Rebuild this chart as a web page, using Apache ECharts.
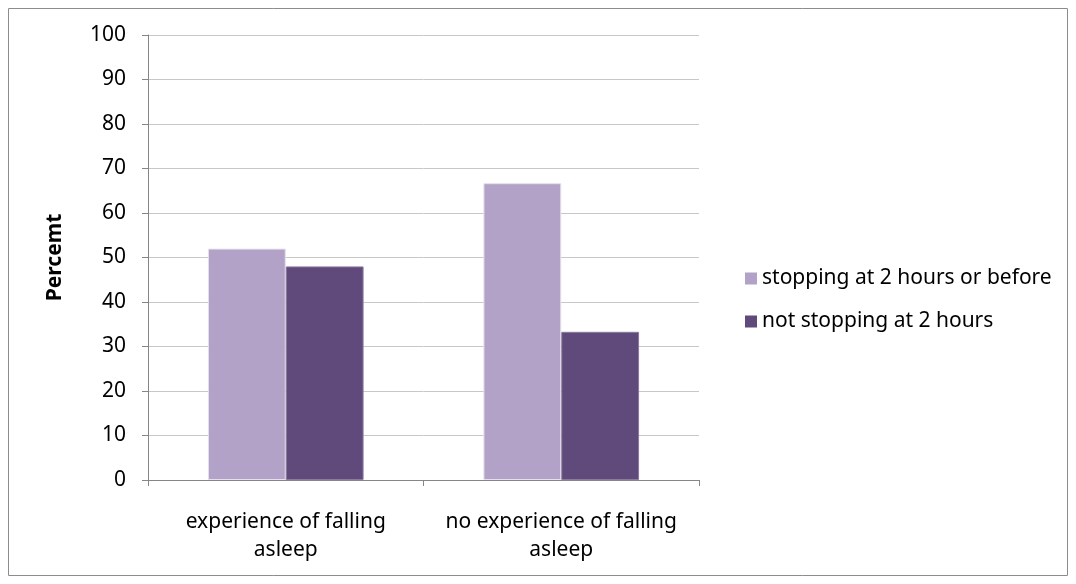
<!DOCTYPE html>
<html>
<head>
<meta charset="utf-8">
<script src="https://cdn.jsdelivr.net/npm/echarts@6/dist/echarts.min.js"></script>
<style>
  html, body { margin: 0; padding: 0; background: #fff; }
  #chart { width: 1076px; height: 584px; }
</style>
</head>
<body>
<div id="chart"></div>
<script>
const categories = ["experience of falling\nasleep", "no experience of falling\nasleep"];
const stoppingBefore = [52, 66.7];
const notStopping = [48, 33.3];
const seriesNames = ["stopping at 2 hours or before", "not stopping at 2 hours"];

const chart = echarts.init(document.getElementById("chart"));
const font = "Noto Sans";

const option = {
  animation: false,
  textStyle: { fontFamily: font },
  graphic: [
    {
      type: "rect",
      shape: { x: 8.5, y: 8.5, width: 1059, height: 567 },
      style: { fill: "none", stroke: "#8c8c8c", lineWidth: 1 },
      silent: true,
    },
  ],
  grid: { left: 148, right: 377, top: 35, bottom: 104 },
  legend: {
    orient: "vertical",
    left: 740,
    top: 263,
    itemWidth: 12,
    itemHeight: 12,
    itemGap: 22,
    icon: "rect",
    itemStyle: { borderWidth: 0 },
    textStyle: { fontSize: 21, color: "#000", fontFamily: font },
    data: seriesNames,
  },
  xAxis: {
    type: "category",
    data: categories,
    axisLine: { lineStyle: { color: "#868686" } },
    axisTick: { show: true, length: 6, lineStyle: { color: "#868686" } },
    axisLabel: {
      interval: 0,
      hideOverlap: false,
      color: "#000",
      fontSize: 21,
      margin: 28,
      lineHeight: 28,
      fontFamily: font,
    },
  },
  yAxis: {
    type: "value",
    min: 0,
    max: 100,
    interval: 10,
    name: "Percemt",
    nameLocation: "middle",
    nameGap: 82,
    nameTextStyle: { fontSize: 21, fontWeight: "bold", color: "#000", fontFamily: font },
    axisLine: { show: true, lineStyle: { color: "#868686" } },
    axisTick: { show: true, length: 6, lineStyle: { color: "#868686" } },
    axisLabel: { color: "#000", fontSize: 21, margin: 22, fontFamily: font },
    splitLine: { lineStyle: { color: "#c8c8c8" } },
  },
  series: [
    {
      name: seriesNames[0],
      type: "bar",
      data: stoppingBefore,
      barGap: "0%",
      barCategoryGap: "43.5%",
      itemStyle: { color: "#B3A2C7", borderColor: "#e6e0ee", borderWidth: 1 },
    },
    {
      name: seriesNames[1],
      type: "bar",
      data: notStopping,
      itemStyle: { color: "#604A7B", borderColor: "#8a7aa0", borderWidth: 1 },
    },
  ],
};

chart.setOption(option);
</script>
</body>
</html>
